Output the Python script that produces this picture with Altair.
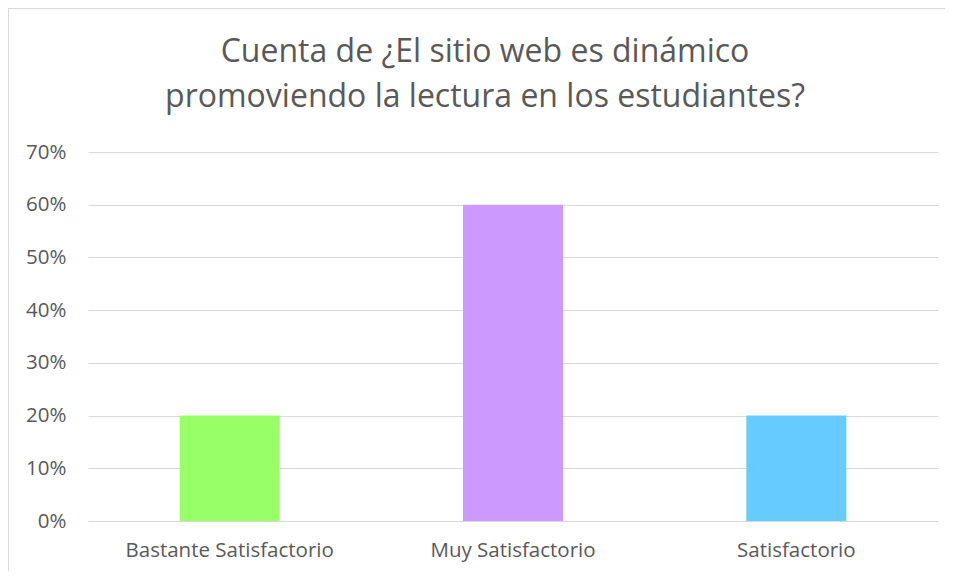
import altair as alt
import pandas as pd

categories = ["Bastante Satisfactorio", "Muy Satisfactorio", "Satisfactorio"]
values = [0.20, 0.60, 0.20]
colors = ["#99FF66", "#CC99FF", "#66CCFF"]
y_ticks = [0, 0.1, 0.2, 0.3, 0.4, 0.5, 0.6, 0.7]
title_lines = ["Cuenta de ¿El sitio web es dinámico",
               "promoviendo la lectura en los estudiantes?"]

df = pd.DataFrame({"cat": categories, "val": values, "color": colors})

FONT = "Open Sans"
GRAY = "#595959"
GRID = "#D9D9D9"

bars = alt.Chart(df).mark_bar().encode(
    x=alt.X("cat:N", sort=categories,
            scale=alt.Scale(paddingInner=0.647, paddingOuter=0.3235),
            axis=alt.Axis(title=None, labelAngle=0, labelFontSize=20.5,
                          labelColor=GRAY, labelFont=FONT, ticks=False,
                          domain=False, labelPadding=19, labelLimit=400)),
    y=alt.Y("val:Q",
            scale=alt.Scale(domain=[0, 0.7], nice=False),
            axis=alt.Axis(title=None, format=".0%", values=y_ticks,
                          labelFontSize=20.5, labelColor=GRAY, labelFont=FONT,
                          ticks=False, domain=False, gridColor=GRID,
                          gridWidth=1, labelPadding=22)),
    color=alt.Color("color:N", scale=None, legend=None),
)

frame = alt.Chart(df).mark_rect(fill=None, stroke=GRID, strokeWidth=1).encode(
    x=alt.value(-79.5), x2=alt.value(900), y=alt.value(-143.5), y2=alt.value(440)
)

chart = alt.layer(bars, frame).properties(
    width=850,
    height=369,
    autosize=alt.AutoSizeParams(type="none"),
    padding={"left": 80, "top": 144, "right": 7, "bottom": 50},
    title=alt.TitleParams(title_lines, fontSize=32, font=FONT, color=GRAY,
                          fontWeight="normal", lineHeight=45, anchor="middle",
                          frame="group", offset=-106, dx=-28),
).configure_view(stroke=None)

chart.save("out.html", embed_options={"renderer": "svg", "actions": False})
